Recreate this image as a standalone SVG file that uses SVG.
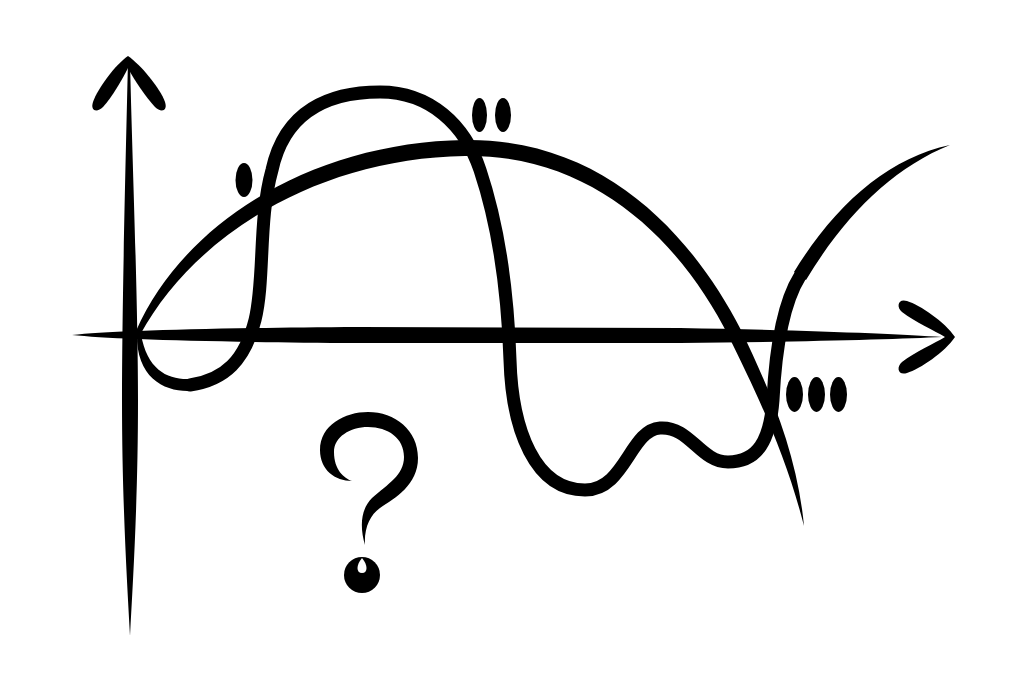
<svg xmlns="http://www.w3.org/2000/svg" width="1024" height="683" viewBox="0 0 1024 683">
<style>
.ink{fill:#000;stroke:none}
.line{fill:none;stroke:#000;stroke-width:13;stroke-linecap:round;stroke-linejoin:round}
</style>
<rect width="1024" height="683" fill="#fff"/>
<g id="y-axis">
<path class="ink" d="M128,60 C126,150 122,300 122,400 C122,500 127,580 130,636 C133,580 138,500 138,400 C138,300 132,150 130,60 Z"/>
<path class="ink" d="M128,56 C115,65 98,88 93,102 C90,111 97,113 103,107 C112,97 122,80 128,68 Z"/>
<path class="ink" d="M128,56 C141,65 160,88 165,102 C168,111 161,113 155,107 C146,97 134,80 128,68 Z"/>
</g>
<g id="x-axis">
<path class="ink" d="M72,335 C110,331 200,328 360,327 L680,328 C800,330 900,334 942,337 C900,339 800,342 680,343 L360,343 C200,342 110,339 72,335 Z"/>
<path class="ink" d="M955,337 C945,322 920,305 907,301 C898,298 896,307 902,312 C915,322 935,331 945,337 Z"/>
<path class="ink" d="M955,337 C945,352 920,369 907,373 C898,376 896,367 902,362 C915,352 935,343 945,337 Z"/>
</g>
<g id="curve-arch">
<path class="ink" d="M136,331 C186,218 318,142 465,140 C604,138 692,235 741,330 C766,382 797,450 804,526 C785,451 754,388 729,337 C683,245 596,154 465,156 C322,158 196,232 140,335 Z"/>
</g>
<g id="curve-wave">
<path class="ink" d="M137,334 C136,378 165,392 190,391 L190,379 C168,380 147,370 141,334 Z"/>
<path class="line" d="M190,385 C225,380 245,360 255,320 C265,280 258,220 272,170 C285,110 330,92 380,92 C430,92 465,125 480,170 C500,230 508,300 510,360 C512,430 535,490 585,490 C625,490 630,430 660,428 C690,426 700,462 728,462 C758,462 770,440 773,400 C776,340 785,300 800,276"/>
<path class="ink" d="M794,272 C835,205 888,158 950,145 C893,168 845,215 806,280 Z"/>
</g>
<g id="dots-1">
<ellipse class="ink" cx="244" cy="180" rx="8.5" ry="17"/>
</g>
<g id="dots-2">
<ellipse class="ink" cx="479.5" cy="115" rx="7.5" ry="17"/>
<ellipse class="ink" cx="503" cy="115" rx="8" ry="17"/>
</g>
<g id="dots-3">
<ellipse class="ink" cx="794.5" cy="394.5" rx="8.5" ry="17.5"/>
<ellipse class="ink" cx="816.5" cy="394.5" rx="8.5" ry="17.5"/>
<ellipse class="ink" cx="838.5" cy="394.5" rx="8.5" ry="17.5"/>
</g>
<g id="question-mark">
<path class="ink" d="M352,481 C335,481 320,470 320,450 C320,425 345,412 368,412 C395,412 418,430 418,458 C418,485 395,498 380,508 C370,515 364,528 365,545 C360,528 360,510 372,498 C388,484 404,475 404,457 C404,438 388,427 368,427 C350,427 334,437 334,452 C334,470 344,478 352,481 Z"/>
<circle class="ink" cx="362" cy="575" r="18"/>
<path fill="#fff" d="M362,558 C356,565 356,573 362,573 C368,573 368,565 362,558 Z"/>
</g>
</svg>
